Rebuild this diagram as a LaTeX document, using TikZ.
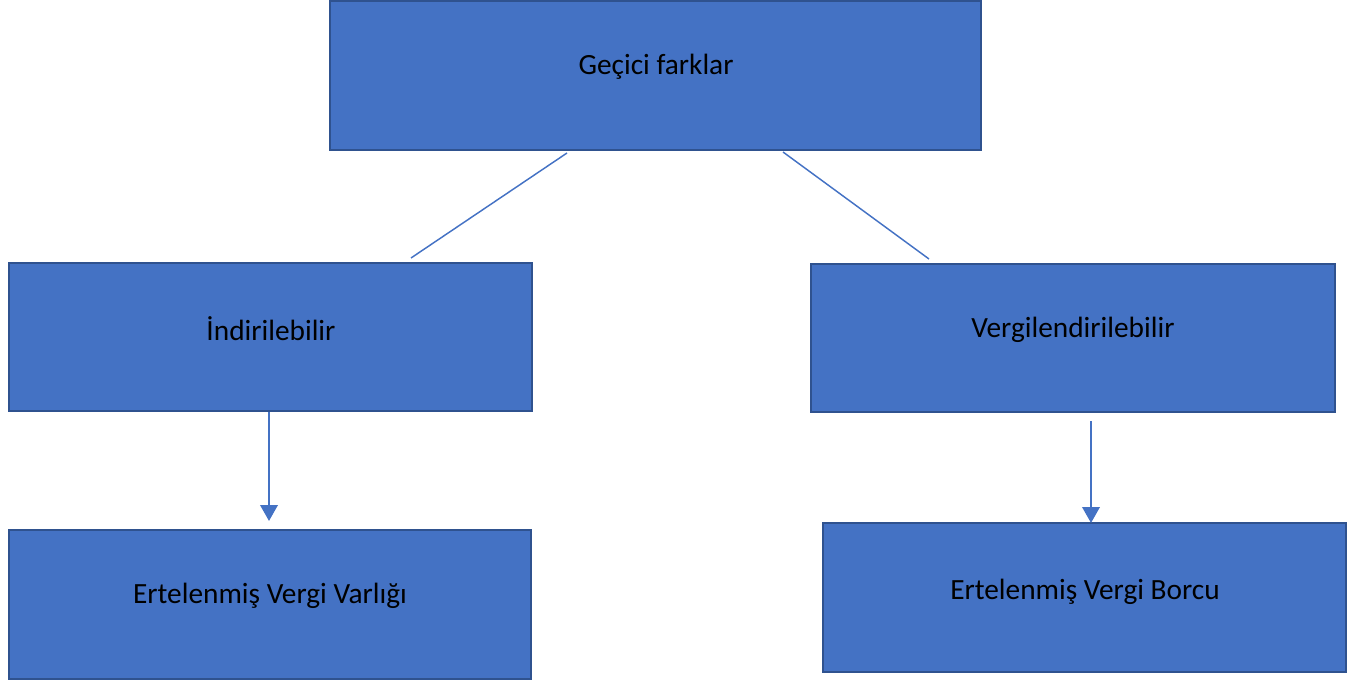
\documentclass[tikz,border=0pt]{standalone}
\usepackage{fontspec}
\setmainfont{Carlito}
\usetikzlibrary{arrows.meta}
\definecolor{boxfill}{HTML}{4472C4}
\definecolor{boxline}{HTML}{2F528F}
\definecolor{conn}{HTML}{4472C4}
\begin{document}
\begin{tikzpicture}[x=0.75pt,y=-0.75pt,
  box/.style={draw=boxline,fill=boxfill,line width=1.5pt,inner sep=0pt},
  lbl/.style={font=\fontsize{22}{26}\selectfont,text=black,inner sep=0pt},
  conline/.style={draw=conn,line width=1.1pt},
  conarrow/.style={draw=conn,line width=2pt,-{Triangle[length=12pt,width=13pt]}}]
\useasboundingbox (0,0) rectangle (1366,684);
% boxes
\path[box] (330,1) rectangle (981,150);
\path[box] (9,263) rectangle (532,411);
\path[box] (811,264) rectangle (1335,412);
\path[box] (9,530) rectangle (531,679);
\path[box] (823,523) rectangle (1346,672);
% labels
\node[lbl] (t0) at (656,67) {Geçici farklar};
\node[lbl] (t1) at (271,329) {İndirilebilir};
\node[lbl] (t2) at (1073,330) {Vergilendirilebilir};
\node[lbl] (t3) at (270,596) {Ertelenmiş Vergi Varlığı};
\node[lbl] (t4) at (1085,592) {Ertelenmiş Vergi Borcu};
% connector ends
\coordinate (a1) at (567,153);
\coordinate (a2) at (411,258);
\coordinate (b1) at (783,152);
\coordinate (b2) at (929,259);
\coordinate (c1) at (269,412);
\coordinate (c2) at (269,521);
\coordinate (d1) at (1091,421);
\coordinate (d2) at (1091,523);
\draw[conline] (a1) -- (a2);
\draw[conline] (b1) -- (b2);
\draw[conarrow] (c1) -- (c2);
\draw[conarrow] (d1) -- (d2);
\end{tikzpicture}
\end{document}
